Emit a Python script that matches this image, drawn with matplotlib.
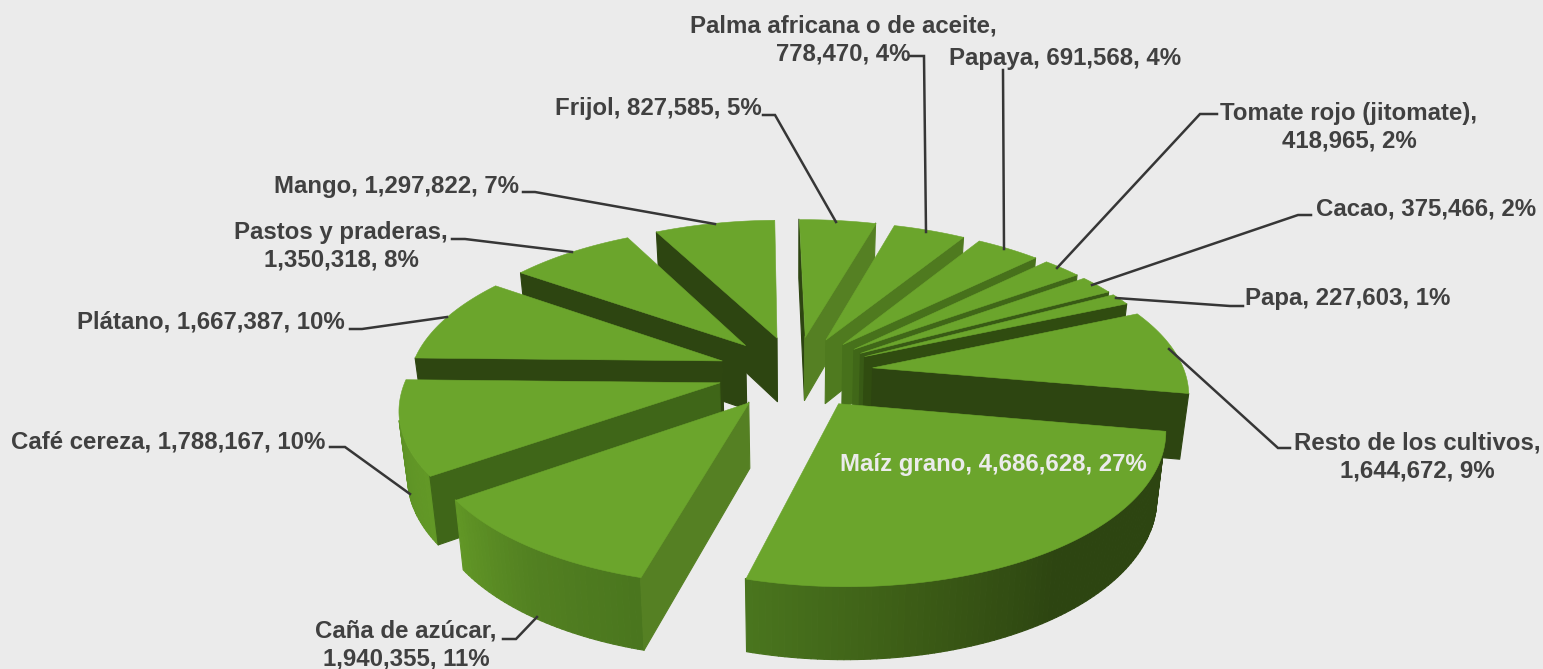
import numpy as np
import matplotlib
matplotlib.use("Agg")
import matplotlib.pyplot as plt
from matplotlib.collections import PolyCollection

# ---- data (clockwise from the top) ----
crops = ["Frijol", "Palma africana o de aceite", "Papaya", "Tomate rojo (jitomate)",
         "Cacao", "Papa", "Resto de los cultivos", "Maíz grano", "Caña de azúcar",
         "Café cereza", "Plátano", "Pastos y praderas", "Mango"]
values = [827585, 778470, 691568, 418965, 375466, 227603, 1644672, 4686628,
          1940355, 1788167, 1667387, 1350318, 1297822]
percents = [5, 4, 4, 2, 2, 1, 9, 27, 11, 10, 10, 8, 7]

# ---- style / layout ----
BG = "#ebebeb"
TOP = (107/255, 165/255, 44/255)
TXT = "#404040"
LINE = "#363636"
CX, CY, A, B, P, EXPL = 795.0, 371.6, 312.0, 145.0, 0.15, 0.25
START = -1.0
BOTTOM_SCALE = 0.977

# layout per label: text centre, line break or not, leader polyline
label_layout = {
    "Frijol": ((658, 108), False, [(763, 115), (775, 115), (836, 222)]),
    "Palma africana o de aceite": ((843, 40), True, [(910, 56), (924, 56), (926, 232)]),
    "Papaya": ((1065, 59), False, [(1003, 70), (1004, 249)]),
    "Tomate rojo (jitomate)": ((1349, 127), True, [(1217, 114), (1200, 114), (1057, 268)]),
    "Cacao": ((1426, 209), False, [(1311, 215), (1298, 215), (1092, 285)]),
    "Papa": ((1348, 298), False, [(1243, 306), (1230, 306), (1116, 298)]),
    "Resto de los cultivos": ((1417, 457), True, [(1290, 448), (1278, 448), (1169, 349)]),
    "Maíz grano": ((993, 464), False, None),
    "Caña de azúcar": ((406, 645), True, [(503, 639), (516, 639), (537, 617)]),
    "Café cereza": ((168, 442), False, [(330, 447), (345, 447), (410, 494)]),
    "Plátano": ((211, 322), False, [(350, 329), (362, 329), (447, 317)]),
    "Pastos y praderas": ((341, 246), True, [(452, 239), (465, 239), (572, 252)]),
    "Mango": ((397, 187), False, [(523, 192), (535, 192), (715, 224)]),
}

OUT_A = [60, 90, 145, 170, 196, 215, 236, 250, 272, 300]
OUT_C = [(45, 69, 17), (45, 69, 17), (45, 69, 17), (60, 92, 22), (74, 118, 30),
         (82, 128, 33), (98, 152, 38), (95, 148, 38), (88, 138, 34), (88, 138, 34)]
RAD_A = [60, 107, 123, 137, 145, 153, 157, 191, 270, 300]
RAD_C = [(85, 128, 35), (85, 128, 35), (79, 122, 31), (70, 112, 27), (63, 102, 24),
         (55, 88, 20), (47, 74, 16), (45, 69, 17), (45, 69, 17), (45, 69, 17)]


def shade(ang, xs, cs):
    ang = ang % 360
    cs = np.array(cs, float) / 255
    return tuple(np.interp(ang, xs, cs[:, i]) for i in range(3))


def project(x, y):
    w = 1 + P * y
    return CX + A * x / w, CY - B * y / w


def lower(pt):
    X, Y = pt
    return CX + (X - CX) * BOTTOM_SCALE, Y + 62 + (Y - 300) * 0.04


def facing(poly):
    p = np.array(poly)
    x, y = p[:, 0], p[:, 1]
    return 0.5 * np.sum(x * np.roll(y, -1) - np.roll(x, -1) * y)


fig = plt.figure(figsize=(15.43, 6.69), dpi=100, facecolor=BG)
ax = fig.add_axes([0, 0, 1, 1])
ax.set_xlim(0, 1543)
ax.set_ylim(669, 0)
ax.axis("off")

vals = np.array(values, float)
edges = START + np.concatenate([[0], np.cumsum(vals)]) / vals.sum() * 360

slices = []
for i in range(len(vals)):
    t0, t1 = edges[i], edges[i + 1]
    mid = np.radians((t0 + t1) / 2)
    ox, oy = EXPL * np.sin(mid), EXPL * np.cos(mid)
    apex = project(ox, oy)
    n = max(3, int((t1 - t0) * 1.0))
    th = np.linspace(t0, t1, n)
    rim = [project(ox + np.sin(np.radians(t)), oy + np.cos(np.radians(t))) for t in th]
    slices.append((apex[1], apex, rim, th, t0, t1))

z = 2
for _, apex, rim, th, t0, t1 in sorted(slices, key=lambda s: s[0]):
    polys, cols = [], []
    # outer wall
    for j in range(len(rim) - 1):
        q = [rim[j], rim[j + 1], lower(rim[j + 1]), lower(rim[j])]
        if facing(q) < 0:
            polys.append(q)
            cols.append(shade((th[j] + th[j + 1]) / 2, OUT_A, OUT_C))
    # radial walls: (edge point, outward normal angle)
    for pt, ang, order in ((rim[0], t0 - 90, 1), (rim[-1], t1 + 90, -1)):
        q = [apex, pt, lower(pt), lower(apex)]
        if facing(q) * order < 0:
            polys.append(q)
            cols.append(shade(ang, RAD_A, RAD_C))
    if polys:
        ax.add_collection(PolyCollection(polys, facecolors=cols, edgecolors=cols,
                                         linewidths=0.8, zorder=z))
    ax.add_collection(PolyCollection([[apex] + rim], facecolors=[TOP], edgecolors=[TOP],
                                     linewidths=0.4, zorder=z + 0.5))
    z += 1

for name, val, pct in zip(crops, values, percents):
    (tx, ty), wrap, leader = label_layout[name]
    sep = ",\n" if wrap else ", "
    s = f"{name}{sep}{val:,}, {pct}%"
    col = BG if name == "Maíz grano" else TXT
    ax.text(tx, ty, s, ha="center", va="center", color=col, fontsize=17.3,
            fontweight="bold", family="Liberation Sans", linespacing=1.25, zorder=60)
    if leader:
        lx, ly = zip(*leader)
        ax.plot(lx, ly, color=LINE, lw=1.8, zorder=50, solid_joinstyle="miter")

fig.savefig("out.png", dpi=100, facecolor=BG)
